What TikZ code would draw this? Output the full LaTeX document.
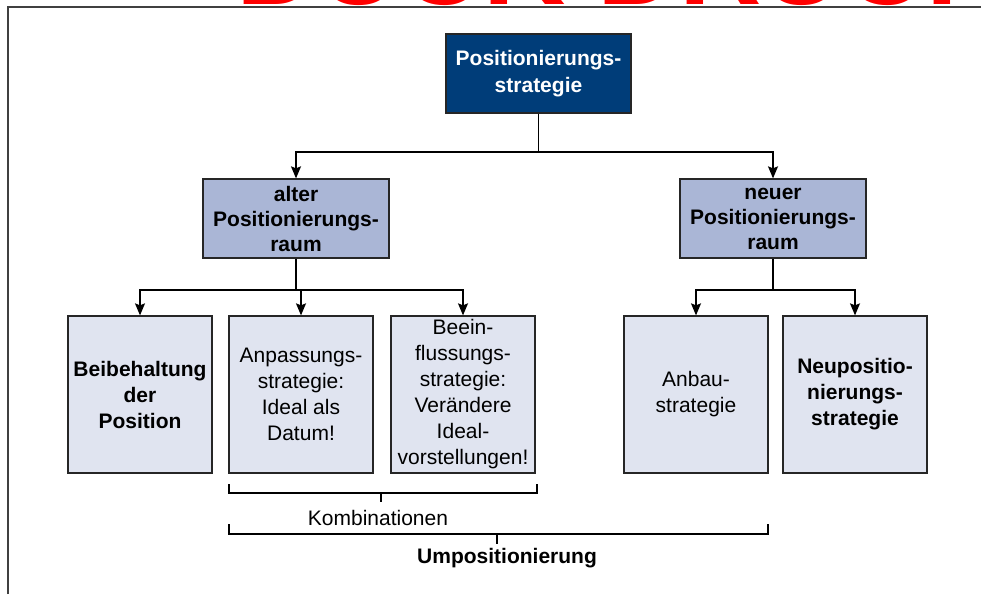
\documentclass[tikz,border=0pt]{standalone}
\usepackage{fontspec}
\setmainfont{Liberation Sans}
\usetikzlibrary{arrows.meta}
\definecolor{topblue}{RGB}{0,61,121}
\definecolor{midblue}{RGB}{170,182,214}
\definecolor{lightblue}{RGB}{224,228,240}
\definecolor{framegray}{RGB}{64,64,64}
\definecolor{wmred}{RGB}{255,0,0}
\begin{document}
\begin{tikzpicture}[x=1pt,y=-1pt,
  every node/.style={inner sep=0pt, align=center, font=\fontsize{21}{26}\selectfont},
  boxbase/.style={draw=black!85, line width=1.3pt},
  topbox/.style={boxbase, fill=topblue, text=white, font=\fontsize{21}{27}\selectfont\bfseries, minimum width=185pt, minimum height=79pt},
  midbox/.style={boxbase, fill=midblue, font=\fontsize{21}{25}\selectfont\bfseries, minimum width=186pt, minimum height=79pt},
  leafbox/.style={boxbase, fill=lightblue, minimum width=144pt, minimum height=157pt},
  boldleaf/.style={leafbox, font=\fontsize{21}{26}\selectfont\bfseries},
  conn/.style={draw=black, line width=1.2pt},
  arr/.style={conn, -{Stealth[length=12pt,width=10pt,inset=2pt]}},
  brace/.style={draw=black, line width=1.1pt}
]
\useasboundingbox (0,0) rectangle (981,594);
\fill[white] (0,0) rectangle (981,594);

% partially visible watermark at the very top
\begin{scope}
  \clip (0,0) rectangle (981,6);
  \node[anchor=base west, text=wmred, font=\fontsize{114}{114}\selectfont\bfseries] (wm) at (236,5) {DUCK DRUCK};
\end{scope}

% frame
\draw[framegray, line width=2pt] (8,594) -- (8,7) -- (981,7);

% nodes
\node[topbox] (top) at (538.5,73.5) {Positionierungs-\\strategie};
\node[midbox] (alter) at (296,218.5) {alter\\Positionierungs-\\raum};
\node[midbox] (neuer) at (773,218.5) {neuer\\Positionierungs-\\raum};

\node[boldleaf] (b1) at (140,394.5) {Beibehaltung\\der\\Position};
\node[leafbox] (b2) at (301,394.5) {Anpassungs-\\strategie:\\Ideal als\\Datum!};
\node[leafbox] (b3) at (463,394.5) {Beein-\\flussungs-\\strategie:\\Verändere\\Ideal-\\vorstellungen!};
\node[leafbox] (b4) at (696,394.5) {Anbau-\\strategie};
\node[boldleaf] (b5) at (855,394.5) {Neupositio-\\nierungs-\\strategie};

% connectors
\coordinate (lvl1) at (0,152);
\coordinate (lvl2) at (0,290);
\draw[conn] (top.south) -- (top.south |- lvl1);
\draw[arr] (top.south |- lvl1) -| (alter.north);
\draw[arr] (top.south |- lvl1) -| (neuer.north);

\draw[conn] (alter.south) -- (alter.south |- lvl2);
\draw[arr] (alter.south |- lvl2) -| (b1.north);
\draw[arr] (alter.south |- lvl2) -| (b2.north);
\draw[arr] (alter.south |- lvl2) -| (b3.north);

\draw[conn] (neuer.south) -- (neuer.south |- lvl2);
\draw[arr] (neuer.south |- lvl2) -| (b4.north);
\draw[arr] (neuer.south |- lvl2) -| (b5.north);

% brackets
\coordinate (k1) at (229,484);
\coordinate (k2) at (537,484);
\coordinate (kc) at (381,493);
\draw[brace] (k1) -- ++(0,9) -| (k2);
\draw[brace] (kc) -- ++(0,9);
\node (komb) at (378,518) {Kombinationen};

\coordinate (u1) at (229,524);
\coordinate (u2) at (768,524);
\coordinate (uc) at (497,534);
\draw[brace] (u1) -- ++(0,10) -| (u2);
\draw[brace] (uc) -- ++(0,10);
\node[font=\fontsize{21}{26}\selectfont\bfseries] (umpos) at (507,558) {Umpositionierung};
\end{tikzpicture}
\end{document}
